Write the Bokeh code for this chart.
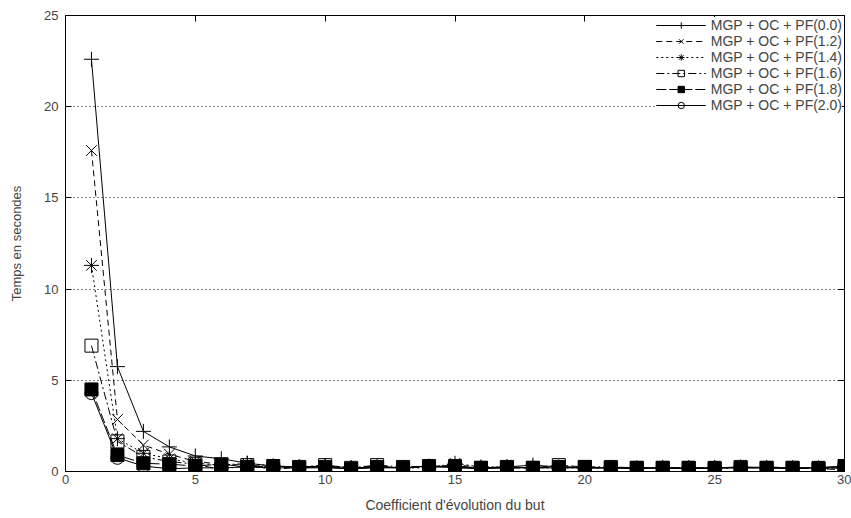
from bokeh.plotting import figure
from bokeh.models import LinearAxis, Range1d, FixedTicker, Legend, CustomJSTickFormatter
from bokeh.embed import file_html
from bokeh.resources import INLINE

x = list(range(1, 31))

pf00 = [22.6, 5.75, 2.2, 1.35, 0.85, 0.7, 0.45, 0.3, 0.25, 0.3, 0.2, 0.25, 0.2, 0.3, 0.25, 0.2, 0.25, 0.35, 0.25, 0.2,
        0.2, 0.15, 0.2, 0.2, 0.2, 0.25, 0.2, 0.2, 0.2, 0.3]
pf12 = [17.6, 2.85, 1.45, 0.95, 0.55, 0.4, 0.35, 0.25, 0.2, 0.25, 0.2, 0.3, 0.2, 0.25, 0.35, 0.25, 0.2, 0.2, 0.25, 0.2,
        0.2, 0.2, 0.2, 0.15, 0.2, 0.2, 0.25, 0.2, 0.2, 0.2]
pf14 = [11.3, 1.8, 1.0, 0.7, 0.45, 0.35, 0.45, 0.3, 0.25, 0.3, 0.2, 0.25, 0.2, 0.2, 0.45, 0.25, 0.25, 0.2, 0.2, 0.2,
        0.2, 0.2, 0.2, 0.2, 0.2, 0.2, 0.2, 0.2, 0.15, 0.2]
pf16 = [6.9, 1.65, 0.8, 0.55, 0.4, 0.1, 0.35, 0.1, 0.25, 0.35, 0.2, 0.35, 0.25, 0.3, 0.3, 0.2, 0.2, 0.2, 0.35, 0.25,
        0.25, 0.2, 0.2, 0.2, 0.15, 0.25, 0.2, 0.2, 0.15, 0.1]
pf18 = [4.5, 0.9, 0.45, 0.4, 0.3, 0.4, 0.25, 0.3, 0.2, 0.25, 0.15, 0.25, 0.2, 0.25, 0.25, 0.2, 0.25, 0.2, 0.25, 0.25,
        0.2, 0.2, 0.2, 0.2, 0.2, 0.2, 0.2, 0.2, 0.2, 0.3]
pf20 = [4.3, 0.75, 0.3, 0.15, 0.2, 0.2, 0.25, 0.2, 0.2, 0.2, 0.15, 0.2, 0.2, 0.3, 0.2, 0.15, 0.2, 0.2, 0.2, 0.2,
        0.2, 0.2, 0.2, 0.15, 0.2, 0.2, 0.2, 0.15, 0.2, 0.2]

labels = ["MGP + OC + PF(0.0)", "MGP + OC + PF(1.2)", "MGP + OC + PF(1.4)",
          "MGP + OC + PF(1.6)", "MGP + OC + PF(1.8)", "MGP + OC + PF(2.0)"]
x_ticks = [0, 5, 10, 15, 20, 25, 30]
y_ticks = [0, 5, 10, 15, 20, 25]

FONT = "Liberation Sans"

p = figure(width=851, height=518, output_backend="svg", toolbar_location=None,
           x_range=Range1d(0, 30), y_range=Range1d(0, 25),
           min_border_left=65, min_border_right=7, min_border_top=15, min_border_bottom=47)
p.outline_line_color = "black"
p.outline_line_width = 1

for ax in (p.xaxis[0], p.yaxis[0]):
    ax.major_tick_in = 6
    ax.major_tick_out = 0
    ax.minor_tick_in = 0
    ax.minor_tick_out = 0
    ax.major_label_text_font = FONT
    ax.major_label_text_font_size = "13px"
    ax.axis_label_text_font = FONT
    ax.axis_label_text_font_style = "normal"
    ax.axis_line_color = "black"
p.xaxis[0].ticker = FixedTicker(ticks=x_ticks)
p.yaxis[0].ticker = FixedTicker(ticks=y_ticks)
p.xaxis[0].axis_label = "Coefficient d'évolution du but"
p.yaxis[0].axis_label = "Temps en secondes"
p.xaxis[0].axis_label_text_font_size = "14px"
p.yaxis[0].axis_label_text_font_size = "13px"
p.xaxis[0].major_label_standoff = 3
p.yaxis[0].major_label_standoff = 7
p.xaxis[0].axis_label_standoff = 10
p.yaxis[0].axis_label_standoff = 17

blank = CustomJSTickFormatter(code="return '';")
for loc, tk in (("above", x_ticks), ("right", y_ticks)):
    a = LinearAxis(ticker=FixedTicker(ticks=tk), major_tick_in=6, major_tick_out=0,
                   minor_tick_in=0, minor_tick_out=0, formatter=blank,
                   major_label_standoff=0, axis_line_color="black")
    p.add_layout(a, loc)

p.xgrid.grid_line_color = None
p.ygrid.grid_line_color = "black"
p.ygrid.grid_line_dash = "1 3"
p.ygrid.grid_line_width = 1

series = [pf00, pf12, pf14, pf16, pf18, pf20]
dashes = ["solid", "6 4", "2 3", "8 3 2 3", "10 3", "solid"]
markers = ["cross", "x", "asterisk", "square", "square", "circle"]
fills = [None, None, None, None, "black", None]
sizes = [15, 15, 15, 13, 13, 13]

items = []
for ys, lab, dash, mk, fc, sz in zip(series, labels, dashes, markers, fills, sizes):
    r1 = p.line(x, ys, line_color="black", line_width=1, line_dash=dash)
    r2 = p.scatter(x, ys, marker=mk, size=sz, line_color="black", line_width=1,
                   fill_color=fc if fc else "white", fill_alpha=1 if fc else 0)
    items.append((lab, [r1, r2]))

legend = Legend(items=items, location="top_right")
legend.label_text_font = FONT
legend.label_text_font_size = "14px"
legend.glyph_width = 50
legend.glyph_height = 16
legend.label_height = 16
legend.label_standoff = 5
legend.spacing = 0
legend.padding = 2
legend.margin = 2
legend.border_line_color = None
legend.background_fill_color = "white"
legend.background_fill_alpha = 1
p.add_layout(legend, "center")

open("out.html", "w").write(file_html(p, INLINE))
